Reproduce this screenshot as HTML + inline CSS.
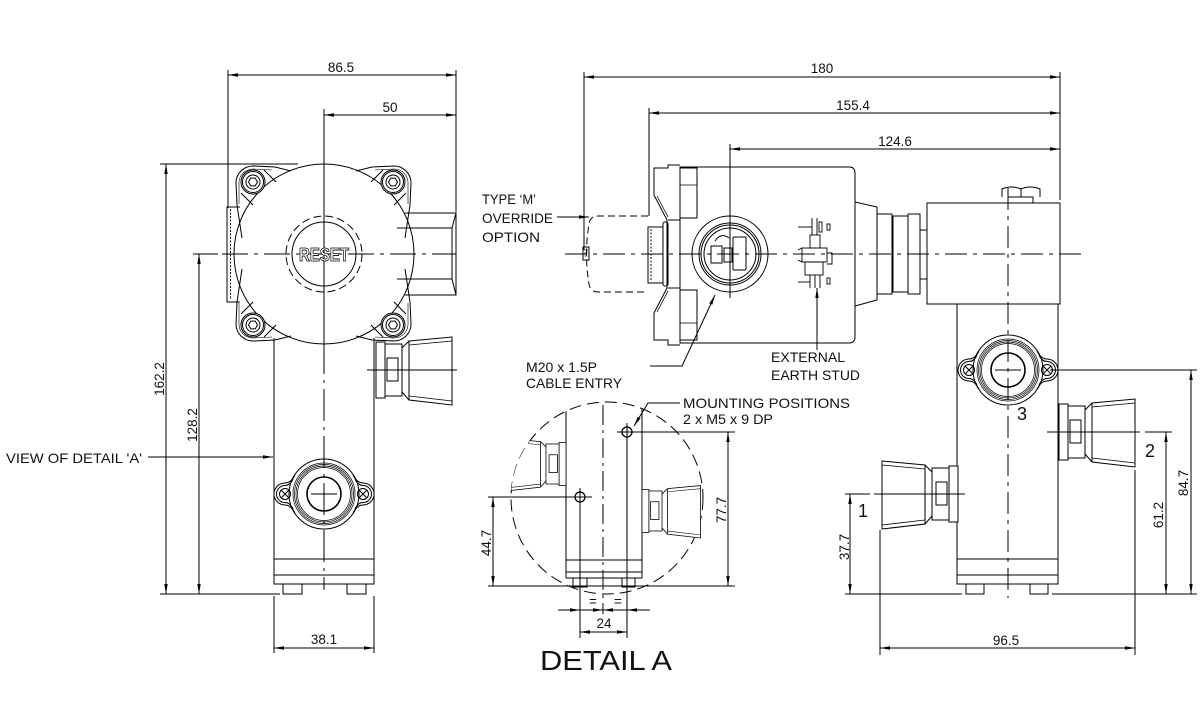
<!DOCTYPE html>
<html><head><meta charset="utf-8">
<style>
html,body{margin:0;padding:0;background:#fff;}
svg{display:block;}
text{font-family:"Liberation Sans",sans-serif;fill:#111;stroke:none;}
</style></head><body>
<svg xmlns="http://www.w3.org/2000/svg" xmlns:xlink="http://www.w3.org/1999/xlink" width="1200" height="704" viewBox="0 0 1200 704">
<defs>
<marker id="a" viewBox="0 0 10 6" markerWidth="10" markerHeight="6" refX="10" refY="3" orient="auto-start-reverse" markerUnits="userSpaceOnUse">
<path d="M0,1.3 L10,3 L0,4.7 z" fill="#000" stroke="none"/>
</marker>
<g id="bolt">
<circle r="12" fill="#fff"/><circle r="10.5"/><circle r="7"/>
<path d="M4.5,0 L2.25,3.9 L-2.25,3.9 L-4.5,0 L-2.25,-3.9 L2.25,-3.9 Z"/>
</g>
<g id="gland">
<path d="M-29,-19 Q-33,-11 -39,-11 A11,11 0 0 0 -39,11 Q-33,11 -29,19"/>
<path d="M-31,-15 Q-34,-8.5 -39,-8.5 A8.5,8.5 0 0 0 -39,8.5 Q-34,8.5 -31,15"/>
<path d="M29,-19 Q33,-11 39,-11 A11,11 0 0 1 39,11 Q33,11 29,19"/>
<path d="M31,-15 Q34,-8.5 39,-8.5 A8.5,8.5 0 0 1 39,8.5 Q34,8.5 31,15"/>
<circle cx="-39" r="5.5"/><path d="M-42.5,-3.5 L-35.5,3.5 M-42.5,3.5 L-35.5,-3.5"/>
<circle cx="39" r="5.5"/><path d="M35.5,-3.5 L42.5,3.5 M35.5,3.5 L42.5,-3.5"/>
<circle r="35"/>
<circle r="31" stroke-width="0.7"/>
<circle r="29.5" stroke-width="0.7"/>
<circle r="28" stroke-width="0.7"/>
<circle r="26.5" stroke-width="0.7"/>
<circle r="17" stroke-width="1.6"/>
<path d="M-13,0 L13,0"/>
</g>
<g id="conn">
<rect x="0" y="-28" width="9" height="56" fill="#fff"/>
<rect x="9" y="-26" width="17" height="52" fill="#fff"/>
<rect x="11" y="-12" width="11" height="23"/>
<path d="M26,-22 L33,-29 M26,22 L33,30"/>
<path d="M33,-29 L76,-33 L76,35 L33,30 Z" fill="#fff"/>
<path d="M33,-25 L76,-29 M33,26 L76,31" stroke-width="0.8"/>
</g>
<g id="lug">
<path d="M242,238 L237,205 L236,183 A17,17 0 0 1 253,166 L275,167 L291,171"/>
<path d="M239,204 L239,184 A14,14 0 0 1 253,169 L272,170" stroke-width="0.6"/>
<path d="M241,193 L253,205 M264,170 L276,182"/>
</g>
<clipPath id="dc"><circle cx="607" cy="498" r="96"/></clipPath>
</defs>

<rect width="1200" height="704" fill="#fff"/>

<g fill="none" stroke="#000" stroke-width="1">
<!-- ================= LEFT VIEW ================= -->
<path d="M274,338 L274,584 L374,584 L374,338"/>
<line x1="274" y1="559" x2="374" y2="559"/>
<line x1="274" y1="575" x2="374" y2="575"/>
<rect x="283" y="584" width="19" height="10"/>
<rect x="347" y="584" width="19" height="10"/>
<!-- side plate -->
<path d="M240,207 L227,207 L227,302 L240,302"/>
<line x1="230.5" y1="209" x2="230.5" y2="300" stroke-dasharray="2 1.5"/>
<!-- dome -->
<circle cx="324" cy="254" r="90" fill="#fff"/>
<!-- right box -->
<path d="M405,213 L456,213 L456,295 L405,295"/>
<path d="M397,228 L452,228 L452,279 L397,279"/>
<line x1="452" y1="228" x2="456" y2="213"/>
<line x1="452" y1="279" x2="456" y2="295"/>
<!-- lugs -->
<use xlink:href="#lug"/>
<use xlink:href="#lug" transform="translate(647,0) scale(-1,1)"/>
<use xlink:href="#lug" transform="translate(0,507) scale(1,-1)"/>
<use xlink:href="#lug" transform="translate(647,507) scale(-1,-1)"/>
<use xlink:href="#bolt" transform="translate(253,182)"/>
<use xlink:href="#bolt" transform="translate(393,182)"/>
<use xlink:href="#bolt" transform="translate(253,325)"/>
<use xlink:href="#bolt" transform="translate(393,325)"/>
<!-- reset -->
<circle cx="324" cy="254" r="38" stroke-dasharray="8 4"/>
<circle cx="324" cy="254" r="32"/>
<!-- side connector & gland -->
<use xlink:href="#conn" transform="translate(376,370)"/>
<use xlink:href="#gland" transform="translate(324,494)"/>
<!-- centerlines -->
<line x1="324" y1="109" x2="324" y2="342"/>
<line x1="324" y1="342" x2="324" y2="590" stroke-dasharray="32 6 3 6"/>
<line x1="193" y1="254" x2="218" y2="254"/>
<line x1="222" y1="254" x2="456" y2="254" stroke-dasharray="26 6 4 6"/>
<line x1="367" y1="370" x2="457" y2="370"/>
<!-- dims left -->
<line x1="228" y1="70" x2="228" y2="208"/>
<line x1="456" y1="70" x2="456" y2="212"/>
<line x1="228" y1="75" x2="456" y2="75" marker-start="url(#a)" marker-end="url(#a)"/>
<line x1="324" y1="115" x2="456" y2="115" marker-start="url(#a)" marker-end="url(#a)"/>
<line x1="160" y1="164" x2="298" y2="164"/>
<line x1="166" y1="164" x2="166" y2="594" marker-start="url(#a)" marker-end="url(#a)"/>
<line x1="199" y1="254" x2="199" y2="594" marker-start="url(#a)" marker-end="url(#a)"/>
<line x1="160" y1="594" x2="280" y2="594"/>
<line x1="148" y1="457" x2="273" y2="457" marker-end="url(#a)"/>
<line x1="274" y1="596" x2="274" y2="653"/>
<line x1="374" y1="596" x2="374" y2="653"/>
<line x1="274" y1="648" x2="374" y2="648" marker-start="url(#a)" marker-end="url(#a)"/>

<!-- ================= MIDDLE VIEW ================= -->
<path d="M648,216 L598,216 Q590,216 589,224 Q584,254 589,284 Q590,292 598,292 L648,292" stroke-dasharray="7 4"/>
<rect x="583" y="247" width="6" height="13"/>
<path d="M584,250 L588,250 M584,253 L588,253 M584,256 L588,256" stroke-width="0.6"/>
<rect x="648" y="227" width="15" height="56"/>
<line x1="651" y1="229" x2="651" y2="281" stroke-dasharray="2 1.5"/>
<rect x="663" y="222" width="5" height="64" rx="2"/>
<path d="M680,165 L668,165 L668,168 L654,168 L654,195 L667,220 L667,288 L654,313 L654,340 L668,340 L668,345 L680,345"/>
<path d="M657,196 L668,217 M657,312 L668,291" stroke-width="0.8"/>
<path d="M668,220 L680,220 M668,288 L680,288"/>
<rect x="680" y="168" width="17" height="50"/>
<rect x="680" y="290" width="17" height="50"/>
<path d="M680,185 L697,185 M680,323 L697,323" stroke-width="0.8"/>
<path d="M680,167 L849,167 Q855,167 855,173 L855,337 Q855,343 849,343 L680,343 Z"/>
<circle cx="730" cy="254" r="38"/>
<circle cx="730" cy="254" r="31"/>
<circle cx="730" cy="254" r="29"/>
<circle cx="730" cy="254" r="26"/>
<rect x="711" y="246" width="11" height="17"/>
<rect x="724" y="248" width="8" height="14"/>
<rect x="733" y="237" width="13" height="33" rx="1"/>
<path d="M715,241 Q721,232 729,238"/>
<g stroke-width="0.9">
<rect x="802" y="248" width="25" height="14"/>
<rect x="810" y="235" width="10" height="13"/>
<rect x="805" y="262" width="18" height="13"/>
<path d="M812,218 L812,235 M817,218 L817,235"/>
<path d="M798,227 L812,227"/>
<path d="M810,275 L810,288 M815,275 L815,288 M820,275 L820,288"/>
<path d="M798,282 L810,282"/>
<rect x="819" y="222" width="3" height="10"/>
<rect x="827" y="224" width="3" height="6"/>
<rect x="827" y="278" width="3" height="6"/>
<path d="M827,253 L832,253 L832,264 L827,264"/>
<path d="M798,250 L802,248 M798,260 L802,262"/>
</g>
<path d="M855,202 L877,207 L877,300 L855,306"/>
<rect x="877" y="214" width="15" height="80"/>
<rect x="893" y="216" width="15" height="76"/>
<rect x="908" y="214" width="12" height="80"/>
<rect x="920" y="230" width="7" height="49"/>
<rect x="927" y="203" width="133" height="101"/>
<path d="M1008,203 L1008,197 L1033,197 L1033,203"/>
<path d="M1002,197 L1002,189 Q1011,185 1021,189 L1021,197"/>
<path d="M1021,197 L1021,189 Q1030,185 1040,189 L1040,197"/>
<line x1="565" y1="254" x2="1086" y2="254" stroke-dasharray="22 6 4 6"/>
<line x1="730" y1="144" x2="730" y2="298"/>
<line x1="584" y1="72" x2="584" y2="250"/>
<line x1="649" y1="108" x2="649" y2="216"/>
<line x1="1060" y1="72" x2="1060" y2="200"/>
<line x1="584" y1="77" x2="1060" y2="77" marker-start="url(#a)" marker-end="url(#a)"/>
<line x1="649" y1="113" x2="1060" y2="113" marker-start="url(#a)" marker-end="url(#a)"/>
<line x1="730" y1="149" x2="1060" y2="149" marker-start="url(#a)" marker-end="url(#a)"/>
<line x1="557" y1="217" x2="589" y2="217" marker-end="url(#a)"/>
<polyline points="650,366 682,366 715,295" marker-end="url(#a)"/>
<line x1="817" y1="350" x2="817" y2="288" marker-end="url(#a)"/>

<!-- ================= RIGHT VIEW ================= -->
<path d="M957,304 L957,584 L1058,584 L1058,304"/>
<line x1="957" y1="559" x2="1058" y2="559"/>
<line x1="957" y1="575" x2="1058" y2="575"/>
<rect x="966" y="584" width="18" height="10"/>
<rect x="1030" y="584" width="18" height="10"/>
<use xlink:href="#gland" transform="translate(1008,370)"/>
<use xlink:href="#conn" transform="translate(1059,432)"/>
<use xlink:href="#conn" transform="translate(958,494) scale(-1,1)"/>
<line x1="1008" y1="188" x2="1008" y2="598" stroke-dasharray="22 6 4 6"/>
<line x1="1047" y1="432" x2="1140" y2="432"/>
<line x1="874" y1="494" x2="965" y2="494"/>
<line x1="845" y1="494" x2="870" y2="494"/>
<line x1="850" y1="494" x2="850" y2="594" marker-start="url(#a)" marker-end="url(#a)"/>
<line x1="845" y1="594" x2="962" y2="594"/>
<line x1="1052" y1="594" x2="1197" y2="594"/>
<line x1="1145" y1="432" x2="1172" y2="432"/>
<line x1="1166" y1="432" x2="1166" y2="594" marker-start="url(#a)" marker-end="url(#a)"/>
<line x1="1050" y1="370" x2="1197" y2="370"/>
<line x1="1191" y1="370" x2="1191" y2="594" marker-start="url(#a)" marker-end="url(#a)"/>
<line x1="880" y1="530" x2="880" y2="655"/>
<line x1="1135" y1="470" x2="1135" y2="655"/>
<line x1="880" y1="648" x2="1135" y2="648" marker-start="url(#a)" marker-end="url(#a)"/>

<!-- ================= DETAIL A ================= -->
<circle cx="607" cy="498" r="96" stroke-dasharray="12 6"/>
<g clip-path="url(#dc)">
<line x1="566" y1="400" x2="566" y2="578"/>
<line x1="642" y1="400" x2="642" y2="578"/>
<use xlink:href="#conn" transform="translate(566,464) scale(-0.77,0.77)"/>
</g>
<line x1="566" y1="560" x2="642" y2="560"/>
<line x1="566" y1="572" x2="642" y2="572"/>
<line x1="566" y1="578" x2="642" y2="578"/>
<rect x="573" y="578" width="14" height="9"/>
<rect x="622" y="578" width="13" height="9"/>
<use xlink:href="#conn" transform="translate(642,511) scale(0.77)"/>
<line x1="603" y1="405" x2="603" y2="614" stroke-dasharray="20 5 3 5"/>
<circle cx="627" cy="432" r="5" stroke-width="1.3" fill="#fff"/>
<circle cx="580" cy="497" r="5" stroke-width="1.3" fill="#fff"/>
<line x1="627" y1="423" x2="627" y2="638"/>
<line x1="580" y1="488" x2="580" y2="638"/>
<line x1="617" y1="432" x2="735" y2="432"/>
<line x1="488" y1="497" x2="592" y2="497"/>
<line x1="488" y1="586" x2="735" y2="586"/>
<line x1="728" y1="432" x2="728" y2="586" marker-start="url(#a)" marker-end="url(#a)"/>
<line x1="493" y1="497" x2="493" y2="586" marker-start="url(#a)" marker-end="url(#a)"/>
<line x1="558" y1="610" x2="580" y2="610" marker-end="url(#a)"/>
<line x1="580" y1="610" x2="603" y2="610" marker-end="url(#a)"/>
<line x1="627" y1="610" x2="603" y2="610" marker-end="url(#a)"/>
<line x1="650" y1="610" x2="627" y2="610" marker-end="url(#a)"/>
<line x1="580" y1="632" x2="627" y2="632" marker-start="url(#a)" marker-end="url(#a)"/>
<polyline points="680,403 648,403 634,426" marker-end="url(#a)"/>
</g>

<text x="324" y="261" text-anchor="middle" font-size="18" font-weight="bold" textLength="50" lengthAdjust="spacingAndGlyphs" style="fill:#fff;stroke:#000;stroke-width:0.8">RESET</text>

<g font-size="13.5">
<text x="341" y="72" text-anchor="middle">86.5</text>
<text x="390" y="112" text-anchor="middle">50</text>
<text transform="translate(164,379) rotate(-90)" text-anchor="middle">162.2</text>
<text transform="translate(197,425) rotate(-90)" text-anchor="middle">128.2</text>
<text x="324" y="644" text-anchor="middle">38.1</text>
<text x="822" y="73" text-anchor="middle">180</text>
<text x="853" y="110" text-anchor="middle">155.4</text>
<text x="895" y="146" text-anchor="middle">124.6</text>
<text transform="translate(491,543) rotate(-90)" text-anchor="middle">44.7</text>
<text transform="translate(726,510) rotate(-90)" text-anchor="middle">77.7</text>
<text x="593" y="606" text-anchor="middle">=</text>
<text x="618" y="606" text-anchor="middle">=</text>
<text x="604" y="628" text-anchor="middle">24</text>
<text transform="translate(849,547) rotate(-90)" text-anchor="middle">37.7</text>
<text transform="translate(1163,515) rotate(-90)" text-anchor="middle">61.2</text>
<text transform="translate(1188,483) rotate(-90)" text-anchor="middle">84.7</text>
<text x="1006" y="645" text-anchor="middle">96.5</text>
</g>
<g font-size="14">
<text x="6" y="463" textLength="136" lengthAdjust="spacingAndGlyphs">VIEW OF DETAIL 'A'</text>
<text x="482" y="204" textLength="54" lengthAdjust="spacingAndGlyphs">TYPE ‘M’</text>
<text x="482" y="223" textLength="71" lengthAdjust="spacingAndGlyphs">OVERRIDE</text>
<text x="482" y="242" textLength="58" lengthAdjust="spacingAndGlyphs">OPTION</text>
<text x="526" y="372" textLength="71" lengthAdjust="spacingAndGlyphs">M20 x 1.5P</text>
<text x="526" y="388" textLength="96" lengthAdjust="spacingAndGlyphs">CABLE ENTRY</text>
<text x="771" y="362" textLength="74" lengthAdjust="spacingAndGlyphs">EXTERNAL</text>
<text x="771" y="380" textLength="89" lengthAdjust="spacingAndGlyphs">EARTH STUD</text>
<text x="683" y="408" textLength="167" lengthAdjust="spacingAndGlyphs">MOUNTING POSITIONS</text>
<text x="683" y="424" textLength="90" lengthAdjust="spacingAndGlyphs">2 x M5 x 9 DP</text>
</g>
<text x="1022" y="420" font-size="18" text-anchor="middle">3</text>
<text x="1150" y="457" font-size="18" text-anchor="middle">2</text>
<text x="863" y="517" font-size="18" text-anchor="middle">1</text>
<text x="540" y="670" font-size="28" textLength="132" lengthAdjust="spacingAndGlyphs">DETAIL A</text>
</svg>
</body></html>
